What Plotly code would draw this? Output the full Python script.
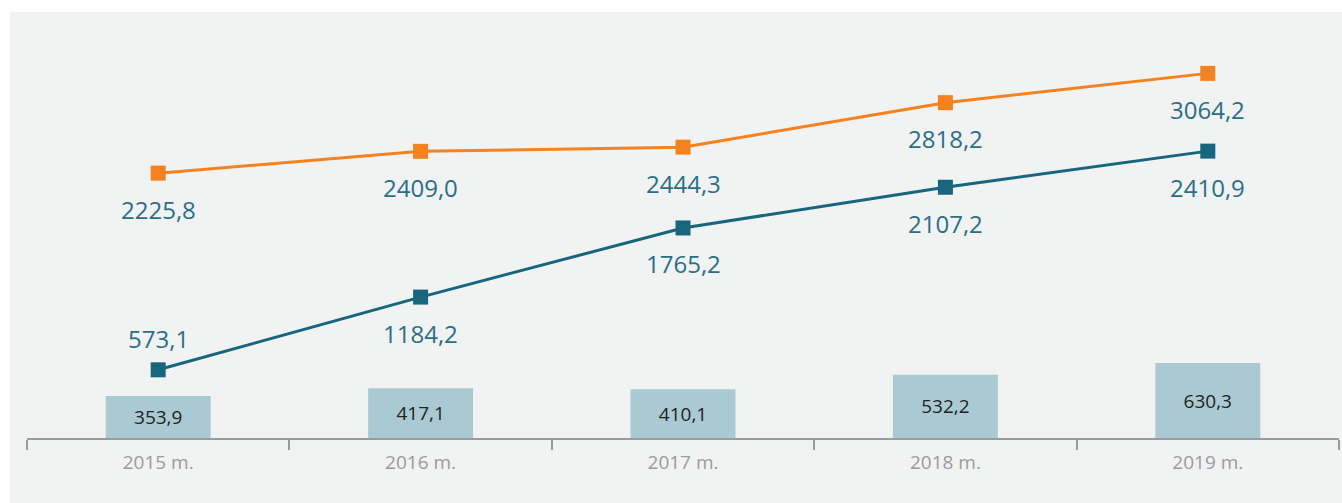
import plotly.graph_objects as go

# data
years = ["2015 m.", "2016 m.", "2017 m.", "2018 m.", "2019 m."]
bar_values = [353.9, 417.1, 410.1, 532.2, 630.3]
orange_values = [2225.8, 2409.0, 2444.3, 2818.2, 3064.2]
blue_values = [573.1, 1184.2, 1765.2, 2107.2, 2410.9]
blue_label_shift = [31, -36, -36, -36, -36]
orange_label_shift = [-36, -36, -36, -36, -36]

W, H = 1342, 503
ml, mr, mt, mb = 27, 3, 12, 65
pw, ph = W - ml - mr, H - mt - mb

label_color = "#2a6f88"

fig = go.Figure()

fig.add_trace(go.Bar(
    x=years, y=bar_values, width=0.4,
    marker=dict(color="#aacad3", line=dict(width=0)),
    texttemplate="%{y:.1f}", textposition="inside", insidetextanchor="middle",
    constraintext="none",
    textfont=dict(family="Open Sans", size=19, color="#222222"),
    hoverinfo="skip",
))

fig.add_trace(go.Scatter(
    x=years, y=orange_values, mode="lines+markers",
    line=dict(color="#f5821f", width=3),
    marker=dict(symbol="square", size=15, color="#f5821f"),
))

fig.add_trace(go.Scatter(
    x=years, y=blue_values, mode="lines+markers",
    line=dict(color="#17667e", width=3),
    marker=dict(symbol="square", size=15, color="#17667e"),
))

for vals, shifts in ((orange_values, orange_label_shift), (blue_values, blue_label_shift)):
    for x, v, s in zip(years, vals, shifts):
        fig.add_annotation(
            x=x, y=v, yshift=s, showarrow=False,
            text=f"{v:.1f}".replace(".", ","),
            font=dict(family="Open Sans", size=24, color=label_color),
        )

# light gray panel behind the chart
fig.add_shape(
    type="rect", xref="paper", yref="paper", layer="below",
    x0=(10 - ml) / pw, x1=1 + (mr + 5) / pw, y0=-(mb + 5) / ph, y1=1,
    fillcolor="#f1f2f2", line=dict(width=0),
)

fig.update_layout(
    width=W, height=H,
    margin=dict(l=ml, r=mr, t=mt, b=mb),
    paper_bgcolor="white", plot_bgcolor="rgba(0,0,0,0)",
    showlegend=False,
    separators=", ",
    font=dict(family="Open Sans"),
)
fig.update_xaxes(
    range=[-0.5, 4.5], showline=True, linecolor="#9b9b9b", linewidth=2,
    ticks="outside", tickson="boundaries", ticklen=10, tickwidth=2, tickcolor="#9b9b9b",
    tickfont=dict(family="Open Sans", size=19, color="#9b9b9b"),
    ticklabelstandoff=6,
    showgrid=False, zeroline=False,
)
fig.update_yaxes(range=[0, 3580], visible=False, showgrid=False, zeroline=False)

fig.write_html("out.html", config={"displayModeBar": False},
               post_script="document.body.style.margin='0';")
